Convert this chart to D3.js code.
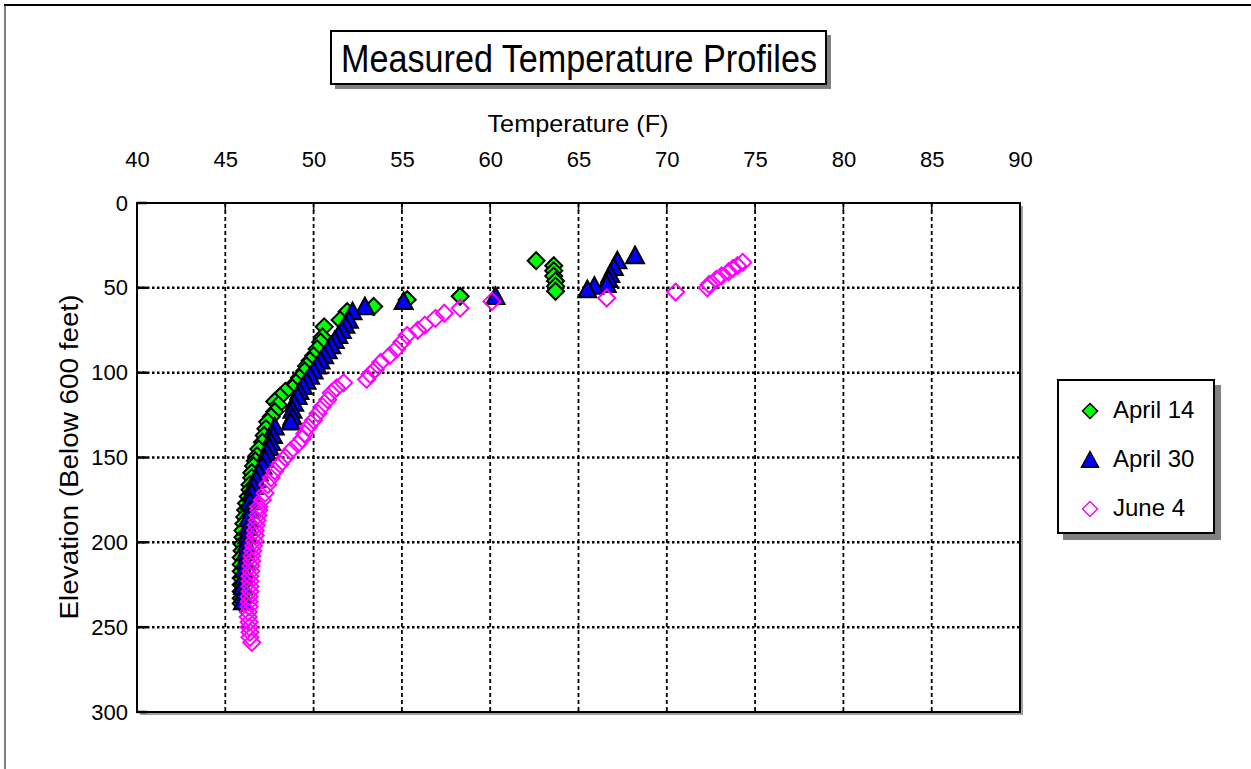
<!DOCTYPE html>
<html><head><meta charset="utf-8">
<script src="https://cdn.jsdelivr.net/npm/d3@7"></script>
<style>
html,body{margin:0;padding:0;background:#fff;}
svg{display:block;font-family:"Liberation Sans",Arial,sans-serif;}
</style></head>
<body>
<svg id="chart" width="1251" height="769"></svg>
<script>
// ---- data ----
const titleText = "Measured Temperature Profiles";
const xAxisTitle = "Temperature (F)";
const yAxisTitle = "Elevation (Below 600 feet)";
const xTicks = [40,45,50,55,60,65,70,75,80,85,90];
const yTicks = [0,50,100,150,200,250,300];
const seriesNames = ["April 14","April 30","June 4"];

const april14Temp = [62.6,63.6,63.6,63.6,63.7,63.7,63.7,58.3,55.3,53.4,51.9,51.5,50.6,50.5,50.4,50.2,50.0,49.8,49.6,49.5,49.2,49.0,48.8,48.4,48.1,47.8,48.0,47.8,47.6,47.4,47.3,47.2,47.1,46.9,46.8,46.7,46.6,46.5,46.5,46.4,46.4,46.3,46.2,46.15,46.1,46.05,46.0,46.0,45.95,45.95,45.9,45.9,45.9,45.9,45.9,45.9,45.9,45.9];
const april14Depth = [34,37,40,43,46,49,52,55,57,61,64,69,73,79,82,86,90,93,96,99,103,106,109,111,114,117,119,123,126,129,133,137,141,145,149,152,155,159,162,166,169,173,177,181,185,189,193,197,201,205,209,213,217,221,225,229,233,236];

const april30Temp = [68.2,67.2,67.0,66.8,66.7,66.6,65.9,65.5,60.3,55.1,52.9,52.2,52.0,51.8,51.6,51.4,51.2,51.0,50.8,50.6,50.4,50.2,50.0,49.8,49.6,49.4,49.2,49.1,48.9,48.8,48.8,48.7,47.8,47.7,47.6,47.5,47.35,47.25,47.1,46.9,46.75,46.6,46.5,46.4,46.4,46.3,46.3,46.25,46.2,46.15,46.1,46.05,46.05,46.0,46.0,46.0];
const april30Depth = [31,34,38,42,45,48,49,51,55,58,61,64,69,72,75,78,81,84,87,90,93,96,99,102,105,108,111,114,118,122,126,129,132,137,141,144,147,151,155,159,163,167,171,176,181,186,191,196,201,206,211,216,221,226,231,235];

const june4Temp = [74.3,74.0,73.75,73.5,73.1,72.8,72.4,72.3,70.5,66.6,60.1,58.3,57.4,56.9,56.3,55.9,55.3,55.0,54.7,54.3,53.8,53.5,53.2,53.0,51.7,51.3,51.0,50.8,50.5,50.25,50.0,49.7,49.5,49.35,49.1,48.7,48.4,48.1,47.8,47.6,47.4,47.25,47.1,46.9,46.9,46.85,46.8,46.75,46.7,46.7,46.65,46.6,46.55,46.5,46.5,46.45,46.45,46.4,46.4,46.4,46.4,46.35,46.35,46.35,46.3,46.3,46.35,46.35,46.4,46.4,46.5];
const june4Depth = [35,37,38.5,40.5,43,45,48,50,52.5,56,58,62,65,68,72,75,78,82,86,90,94,98,101,104,106,109,112,116,120,124,128,132,136,139,142,146,150,154,158,162,166,171,175,179,181,184,187,190,193,196,199,202,205,208,211,214,217,220,223,226,229,232,235,238,241,244,247,250,253,256,259];

// ---- layout ----
const svg = d3.select("#chart");
const L = 137, R = 1020, T = 203, B = 712;
const x = d3.scaleLinear().domain([40,90]).range([L,R]);
const y = d3.scaleLinear().domain([0,300]).range([T,B]);

// outer frame
svg.append("line").attr("x1",4).attr("x2",1251).attr("y1",5).attr("y2",5).attr("stroke","#000").attr("stroke-width",2);
svg.append("line").attr("x1",5).attr("x2",5).attr("y1",5).attr("y2",769).attr("stroke","#000").attr("stroke-width",1);

// title box
svg.append("rect").attr("x",335).attr("y",35).attr("width",496).attr("height",54).attr("fill","#808080");
svg.append("rect").attr("x",331).attr("y",31).attr("width",495).attr("height",53).attr("fill","#fff").attr("stroke","#000").attr("stroke-width",2);
svg.append("text").attr("x",579).attr("y",72).attr("text-anchor","middle").attr("font-size",38)
  .attr("textLength",476).attr("lengthAdjust","spacingAndGlyphs").text(titleText);

// plot shadow
svg.append("rect").attr("x",L+3).attr("y",T+3).attr("width",R-L).attr("height",B-T).attr("fill","#a0a0a0");
svg.append("rect").attr("x",L).attr("y",T).attr("width",R-L).attr("height",B-T).attr("fill","#fff");

// grid
const g = svg.append("g");
g.selectAll("line.vg").data(xTicks.slice(1,-1)).join("line").attr("class","vg")
  .attr("x1",d=>x(d)).attr("x2",d=>x(d)).attr("y1",T).attr("y2",B)
  .attr("stroke","#000").attr("stroke-width",1.8).attr("stroke-dasharray","4,3");
g.selectAll("line.hg").data(yTicks.slice(1,-1)).join("line").attr("class","hg")
  .attr("x1",L).attr("x2",R).attr("y1",d=>y(d)).attr("y2",d=>y(d))
  .attr("stroke","#000").attr("stroke-width",2.5).attr("stroke-dasharray","2.5,2.5");

// axes (via d3 axis, then styled)
const xAxis = svg.append("g").attr("transform",`translate(0,${T})`)
  .call(d3.axisTop(x).tickValues(xTicks).tickSize(0).tickPadding(36).tickFormat(d3.format("d")));
xAxis.select(".domain").remove();
xAxis.selectAll("text").attr("font-size",22).attr("font-family","Liberation Sans, Arial, sans-serif").attr("fill","#000");

const yAxis = svg.append("g").attr("transform",`translate(${L},0)`)
  .call(d3.axisLeft(y).tickValues(yTicks).tickSize(0).tickPadding(9).tickFormat(d3.format("d")));
yAxis.select(".domain").remove();
yAxis.selectAll("text").attr("font-size",22).attr("font-family","Liberation Sans, Arial, sans-serif").attr("fill","#000");

// inward tick marks
svg.selectAll("line.yt").data(yTicks).join("line").attr("class","yt")
  .attr("x1",L).attr("x2",L+10).attr("y1",d=>y(d)).attr("y2",d=>y(d)).attr("stroke","#000").attr("stroke-width",2.5);
svg.selectAll("line.xt").data(xTicks).join("line").attr("class","xt")
  .attr("x1",d=>x(d)).attr("x2",d=>x(d)).attr("y1",T).attr("y2",T+8).attr("stroke","#000").attr("stroke-width",1.5);

// plot border
svg.append("rect").attr("x",L).attr("y",T).attr("width",R-L).attr("height",B-T).attr("fill","none").attr("stroke","#000").attr("stroke-width",2);

// axis titles
svg.append("text").attr("x",578).attr("y",132).attr("text-anchor","middle").attr("font-size",24)
  .attr("textLength",181).attr("lengthAdjust","spacingAndGlyphs").text(xAxisTitle);
svg.append("text").attr("transform","translate(78,457) rotate(-90)").attr("text-anchor","middle").attr("font-size",26)
  .attr("textLength",325).attr("lengthAdjust","spacingAndGlyphs").text(yAxisTitle);

// markers
const diamond = r => `M0,${-r}L${r},0L0,${r}L${-r},0Z`;
const triangle = r => `M0,${-r}L${r},${r*0.85}L${-r},${r*0.85}Z`;

const plot = svg.append("g");
const d14 = april14Temp.map((t,i)=>({t, d:april14Depth[i]}));
const d30 = april30Temp.map((t,i)=>({t, d:april30Depth[i]}));
const dj4 = june4Temp.map((t,i)=>({t, d:june4Depth[i]}));

plot.append("g").selectAll("path").data(d14).join("path")
  .attr("transform",p=>`translate(${x(p.t)},${y(p.d)})`).attr("d",diamond(8.5))
  .attr("fill","#00ff00").attr("stroke","#000").attr("stroke-width",2);
plot.append("g").selectAll("path").data(d30).join("path")
  .attr("transform",p=>`translate(${x(p.t)},${y(p.d)})`).attr("d",triangle(9))
  .attr("fill","#0000ff").attr("stroke","#000").attr("stroke-width",2);
plot.append("g").selectAll("path").data(dj4).join("path")
  .attr("transform",p=>`translate(${x(p.t)},${y(p.d)})`).attr("d",diamond(8.5))
  .attr("fill","none").attr("stroke","#ff00ff").attr("stroke-width",2);

// legend
svg.append("rect").attr("x",1063).attr("y",385).attr("width",158).attr("height",155).attr("fill","#808080");
svg.append("rect").attr("x",1058).attr("y",380).attr("width",156).attr("height",153).attr("fill","#fff").attr("stroke","#000").attr("stroke-width",2);
const legY = [411,460,509];
const leg = svg.append("g");
leg.append("path").attr("transform",`translate(1090,${legY[0]})`).attr("d",diamond(7.5)).attr("fill","#00ff00").attr("stroke","#000").attr("stroke-width",1.5);
leg.append("path").attr("transform",`translate(1090,${legY[1]})`).attr("d",triangle(8.5)).attr("fill","#0000ff").attr("stroke","#000").attr("stroke-width",1.5);
leg.append("path").attr("transform",`translate(1090,${legY[2]})`).attr("d",diamond(7.5)).attr("fill","none").attr("stroke","#ff00ff").attr("stroke-width",1.5);
leg.selectAll("text").data(seriesNames).join("text")
  .attr("x",1113).attr("y",(d,i)=>legY[i]+7).attr("font-size",24).text(d=>d);
</script>
</body></html>
